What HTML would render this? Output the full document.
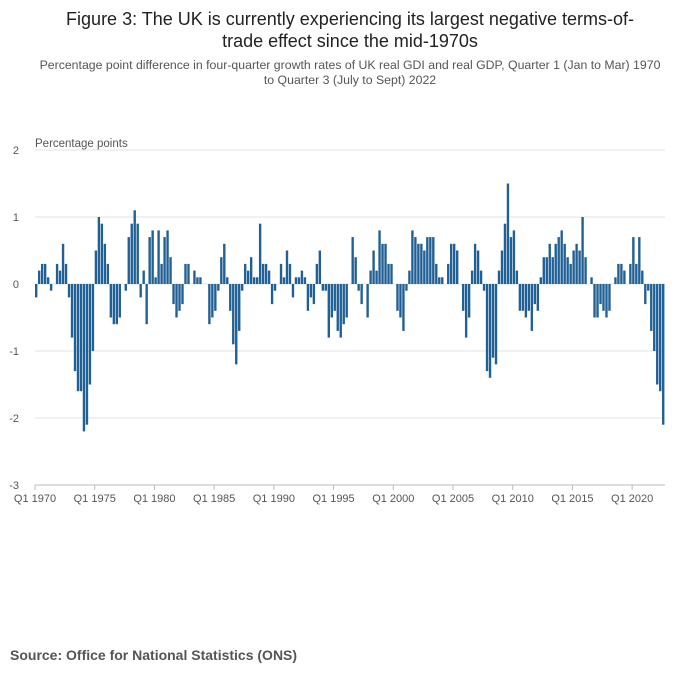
<!DOCTYPE html>
<html><head><meta charset="utf-8"><style>
body{margin:0;background:#fff;width:700px;height:682px;overflow:hidden;font-family:"Liberation Sans",sans-serif}
</style></head><body>
<svg width="700" height="682">
<text x="350" y="25" text-anchor="middle" font-size="18" fill="#222">Figure 3: The UK is currently experiencing its largest negative terms-of-</text>
<text x="350" y="47" text-anchor="middle" font-size="18" fill="#222">trade effect since the mid-1970s</text>
<text x="350" y="69" text-anchor="middle" font-size="12.3" fill="#555">Percentage point difference in four-quarter growth rates of UK real GDI and real GDP, Quarter 1 (Jan to Mar) 1970</text>
<text x="350" y="84" text-anchor="middle" font-size="12.3" fill="#555">to Quarter 3 (July to Sept) 2022</text>
<text x="35" y="147" font-size="11.5" fill="#555">Percentage points</text>
<g id="grid"></g><g id="bars"></g><g id="xaxis"></g>
<text x="10" y="660" font-size="14" font-weight="bold" fill="#555">Source: Office for National Statistics (ONS)</text>
</svg>
<script>
const startYear = 1970;
const yTicks = [2,1,0,-1,-2,-3];
const xTickYears = [1970,1975,1980,1985,1990,1995,2000,2005,2010,2015,2020];
const values = [
-0.2,0.2,0.3,0.3,0.1,-0.1,0,0.3,0.2,0.6,0.3,-0.2,-0.8,-1.3,-1.6,-1.6,-2.2,-2.1,-1.5,-1.0,
0.5,1.0,0.9,0.6,0.3,-0.5,-0.6,-0.6,-0.5,0,-0.1,0.7,0.9,1.1,0.9,-0.2,0.2,-0.6,0.7,0.8,
0.1,0.8,0.3,0.7,0.8,0.4,-0.3,-0.5,-0.4,-0.3,0.3,0.3,0,0.2,0.1,0.1,0,0,-0.6,-0.5,
-0.4,-0.1,0.4,0.6,0.1,-0.4,-0.9,-1.2,-0.7,-0.1,0.3,0.2,0.4,0.1,0.1,0.9,0.3,0.3,0.2,-0.3,
-0.1,0,0.3,0.1,0.5,0.3,-0.2,0.1,0.1,0.2,0.1,-0.4,-0.2,-0.3,0.3,0.5,-0.1,-0.1,-0.8,-0.5,
-0.4,-0.7,-0.8,-0.6,-0.5,0,0.7,0.4,-0.1,-0.3,0,-0.5,0.2,0.5,0.2,0.8,0.6,0.6,0.3,0.3,
0,-0.4,-0.5,-0.7,-0.1,0.2,0.8,0.7,0.6,0.6,0.5,0.7,0.7,0.7,0.3,0.1,0.1,0,0.3,0.6,
0.6,0.5,0,-0.4,-0.8,-0.5,0.2,0.6,0.5,0.2,-0.1,-1.3,-1.4,-1.1,-1.2,0.2,0.5,0.9,1.5,0.7,
0.8,0.2,-0.4,-0.4,-0.5,-0.4,-0.7,-0.3,-0.4,0.1,0.4,0.4,0.6,0.4,0.6,0.7,0.8,0.6,0.4,0.3,
0.5,0.6,0.5,1.0,0.4,0,0.1,-0.5,-0.5,-0.3,-0.4,-0.5,-0.4,0,0.1,0.3,0.3,0.2,0,0.3,
0.7,0.3,0.7,0.2,-0.3,-0.1,-0.7,-1.0,-1.5,-1.6,-2.1];
const NS="http://www.w3.org/2000/svg";
const x0=35, x1=665, pitch=(x1-x0)/values.length;
const yScale=v=>284-v*67;
const xScale=i=>x0+i*pitch;
const grid=document.getElementById('grid');
yTicks.forEach(t=>{
  const l=document.createElementNS(NS,'line');
  
  
  l.setAttribute('x1',x0);l.setAttribute('x2',x1);
  l.setAttribute('y1',yScale(t));l.setAttribute('y2',yScale(t));
  l.setAttribute('stroke',t===-3?'#bbb':'#e3e3e3');l.setAttribute('stroke-width','1');
  grid.appendChild(l);
  const tx=document.createElementNS(NS,'text');
  
  
  tx.setAttribute('x',19);tx.setAttribute('y',yScale(t)+4);
  tx.setAttribute('text-anchor','end');tx.setAttribute('font-size','11');tx.setAttribute('fill','#555');
  tx.textContent=t;grid.appendChild(tx);
});
const bars=document.getElementById('bars');
values.forEach((v,i)=>{
  if(v===0)return;
  const r=document.createElementNS(NS,'rect');
  
  
  r.setAttribute('x',xScale(i));r.setAttribute('width',pitch-0.6);
  r.setAttribute('y',Math.min(yScale(v),yScale(0)));
  r.setAttribute('height',Math.abs(yScale(v)-yScale(0)));
  r.setAttribute('fill','#206095');
  bars.appendChild(r);
});
const xa=document.getElementById('xaxis');
xTickYears.forEach(y=>{
  const i=(y-startYear)*4;
  const tk=document.createElementNS(NS,'line');
  
  
  tk.setAttribute('x1',xScale(i));tk.setAttribute('x2',xScale(i));
  tk.setAttribute('y1',485);tk.setAttribute('y2',490);tk.setAttribute('stroke','#bbb');
  xa.appendChild(tk);
  const tx=document.createElementNS(NS,'text');
  
  
  tx.setAttribute('x',xScale(i));tx.setAttribute('y',502);
  tx.setAttribute('text-anchor','middle');tx.setAttribute('font-size','11');tx.setAttribute('fill','#555');
  tx.textContent='Q1 '+y;xa.appendChild(tx);
});
</script>
</body></html>
